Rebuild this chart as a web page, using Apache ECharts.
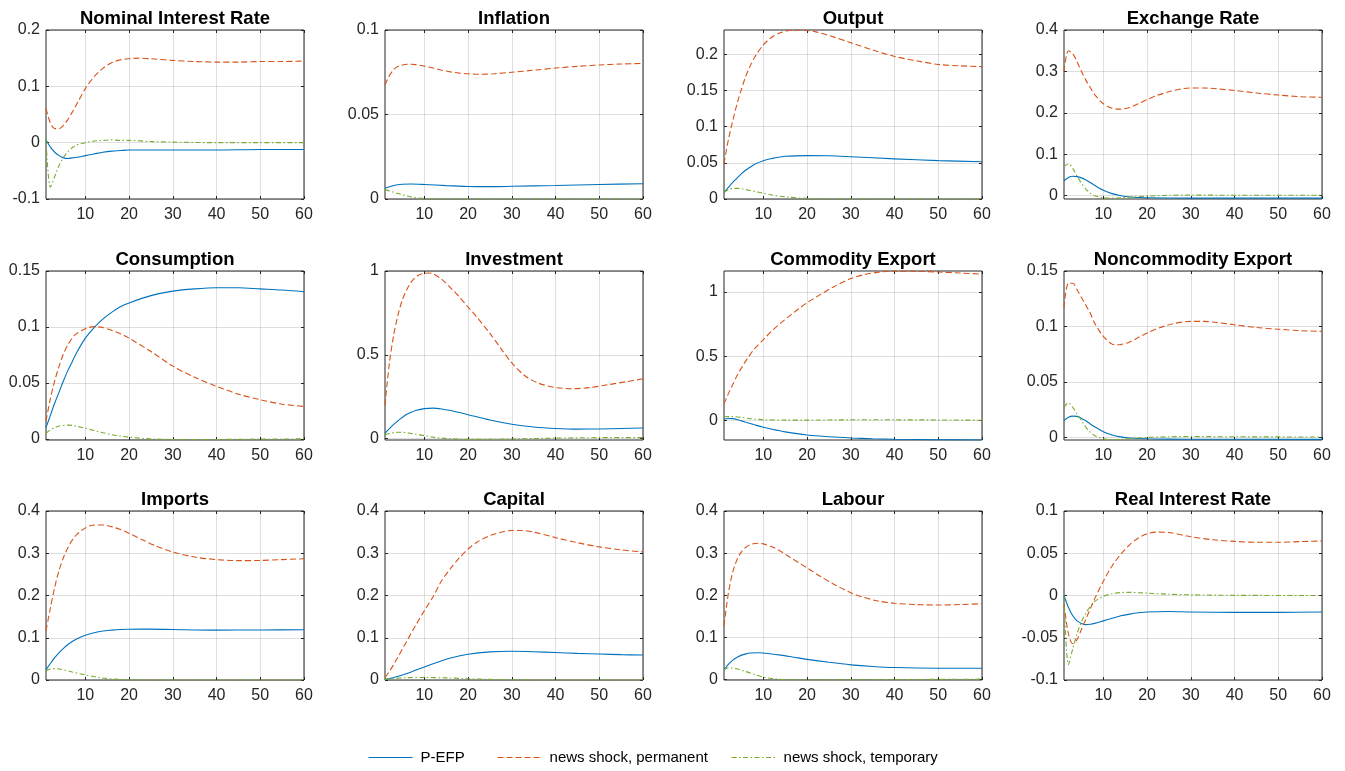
<!DOCTYPE html>
<html>
<head>
<meta charset="utf-8">
<script src="https://cdn.jsdelivr.net/npm/echarts@6/dist/echarts.min.js"></script>
<style>
html,body{margin:0;padding:0;background:#fff;}
#chart{width:1345px;height:771px;}
</style>
</head>
<body>
<div id="chart"></div>
<script>
const titles = ['Nominal Interest Rate','Inflation','Output','Exchange Rate','Consumption','Investment','Commodity Export','Noncommodity Export','Imports','Capital','Labour','Real Interest Rate'];
const seriesNames = ['P-EFP','news shock, permanent','news shock, temporary'];
const xTicks = [10,20,30,40,50,60];
const yTicks = [
  [-0.1,0,0.1,0.2],[0,0.05,0.1],[0,0.05,0.1,0.15,0.2],[0,0.1,0.2,0.3,0.4],
  [0,0.05,0.1,0.15],[0,0.5,1],[0,0.5,1],[0,0.05,0.1,0.15],
  [0,0.1,0.2,0.3,0.4],[0,0.1,0.2,0.3,0.4],[0,0.1,0.2,0.3,0.4],[-0.1,-0.05,0,0.05,0.1]
];
const yLimits = [
  [-0.1,0.2],[0,0.1],[0,0.2336],[-0.008,0.4],
  [-0.001,0.15],[-0.008,1],[-0.151,1.164],[-0.0025,0.15],
  [0,0.4],[0,0.4],[-0.001,0.4],[-0.1,0.1]
];

// Nominal Interest Rate
const nomBlue = [[1,0.005],[2,-0.008],[3,-0.017],[4,-0.023],[5,-0.027],[6,-0.028],[7,-0.027],[8,-0.026],[10,-0.023],[12,-0.020],[14,-0.017],[16,-0.015],[18,-0.014],[20,-0.013],[25,-0.013],[30,-0.013],[40,-0.013],[50,-0.012],[60,-0.012]];
const nomRed = [[1,0.061],[2,0.035],[3,0.025],[4,0.025],[5,0.031],[6,0.041],[7,0.054],[8,0.068],[10,0.096],[12,0.117],[14,0.132],[16,0.142],[18,0.147],[20,0.149],[22,0.150],[25,0.149],[30,0.146],[35,0.144],[40,0.143],[45,0.143],[50,0.144],[55,0.144],[60,0.145]];
const nomGreen = [[1,0.006],[2,-0.079],[3,-0.060],[4,-0.040],[5,-0.026],[6,-0.016],[7,-0.009],[8,-0.004],[10,0.000],[12,0.003],[14,0.004],[16,0.005],[18,0.004],[20,0.004],[25,0.002],[30,0.001],[40,0.000],[50,0.000],[60,0.000]];
// Inflation
const infBlue = [[1,0.0063],[3,0.0080],[5,0.0087],[7,0.0089],[10,0.0086],[15,0.0079],[20,0.0074],[25,0.0073],[30,0.0075],[40,0.0080],[50,0.0086],[60,0.0090]];
const infRed = [[1,0.0675],[2,0.0730],[3,0.0765],[4,0.0785],[5,0.0793],[6,0.0797],[7,0.0797],[8,0.0795],[10,0.0787],[12,0.0775],[14,0.0762],[16,0.0752],[18,0.0745],[20,0.0741],[23,0.0738],[26,0.0741],[30,0.0750],[35,0.0762],[40,0.0775],[45,0.0785],[50,0.0793],[55,0.0799],[60,0.0802]];
const infGreen = [[1,0.0057],[2,0.0048],[3,0.0040],[4,0.0032],[5,0.0025],[6,0.0018],[7,0.0012],[8,0.0008],[10,0.0003],[12,0.0001],[15,0],[20,0],[30,0],[60,0]];
// Output
const outBlue = [[1,0.009],[2,0.016],[3,0.023],[4,0.029],[5,0.035],[6,0.040],[7,0.044],[8,0.048],[10,0.053],[12,0.056],[15,0.059],[20,0.060],[25,0.0598],[30,0.0585],[40,0.0555],[50,0.053],[60,0.0515]];
const outRed = [[1,0.049],[2,0.082],[3,0.108],[4,0.132],[5,0.152],[6,0.170],[7,0.184],[8,0.196],[10,0.213],[12,0.224],[14,0.230],[16,0.233],[18,0.2335],[20,0.233],[22,0.231],[25,0.226],[30,0.216],[35,0.206],[40,0.197],[45,0.191],[50,0.186],[55,0.184],[60,0.183]];
const outGreen = [[1,0.009],[2,0.013],[3,0.0145],[4,0.0147],[5,0.0142],[6,0.013],[8,0.0105],[10,0.008],[12,0.0055],[15,0.003],[20,0.0008],[25,0],[60,0]];
// Exchange Rate
const exrBlue = [[1,0.036],[2,0.044],[3,0.047],[4,0.046],[5,0.043],[6,0.038],[7,0.032],[8,0.025],[10,0.013],[12,0.005],[14,0.0],[16,-0.003],[20,-0.005],[30,-0.006],[40,-0.006],[60,-0.006]];
const exrRed = [[1,0.300],[2,0.350],[3,0.343],[4,0.323],[5,0.300],[6,0.279],[7,0.261],[8,0.244],[10,0.222],[12,0.211],[13,0.209],[14,0.209],[16,0.213],[18,0.222],[20,0.232],[22,0.241],[25,0.251],[28,0.258],[30,0.260],[33,0.260],[36,0.258],[40,0.254],[45,0.248],[50,0.243],[55,0.239],[60,0.2375]];
const exrGreen = [[1,0.070],[2,0.077],[3,0.066],[4,0.047],[5,0.030],[6,0.016],[7,0.006],[8,0.0],[10,-0.005],[12,-0.006],[14,-0.005],[17,-0.003],[20,-0.001],[25,0.001],[30,0.0015],[40,0.001],[50,0.001],[60,0.001]];
// Consumption
const conBlue = [[1,0.010],[2,0.021],[3,0.032],[4,0.042],[5,0.052],[6,0.061],[7,0.069],[8,0.077],[10,0.090],[12,0.0995],[14,0.107],[16,0.113],[18,0.118],[20,0.1215],[25,0.128],[30,0.132],[35,0.134],[40,0.135],[45,0.135],[50,0.134],[55,0.133],[60,0.1315]];
const conRed = [[1,0.016],[2,0.036],[3,0.052],[4,0.065],[5,0.076],[6,0.084],[7,0.090],[8,0.094],[10,0.0985],[12,0.1003],[14,0.0995],[16,0.097],[18,0.094],[20,0.090],[25,0.078],[30,0.065],[35,0.055],[40,0.047],[45,0.040],[50,0.035],[55,0.031],[60,0.029]];
const conGreen = [[1,0.005],[2,0.008],[3,0.010],[4,0.0115],[5,0.012],[6,0.0123],[7,0.012],[8,0.0113],[10,0.0095],[12,0.0075],[14,0.0055],[16,0.0038],[18,0.0025],[20,0.0015],[25,0.0],[30,-0.0005],[40,-0.0005],[50,-0.0002],[60,0.0]];
// Investment
const invBlue = [[1,0.032],[2,0.060],[3,0.085],[4,0.108],[5,0.128],[6,0.145],[7,0.158],[8,0.168],[10,0.179],[12,0.182],[14,0.177],[16,0.168],[18,0.156],[20,0.143],[25,0.111],[30,0.086],[35,0.070],[40,0.061],[45,0.057],[50,0.058],[55,0.061],[60,0.064]];
const invRed = [[1,0.20],[2,0.45],[3,0.62],[4,0.74],[5,0.83],[6,0.89],[7,0.935],[8,0.963],[9,0.979],[10,0.986],[11,0.988],[12,0.984],[14,0.950],[16,0.900],[18,0.845],[20,0.785],[22,0.725],[25,0.628],[28,0.52],[30,0.452],[33,0.375],[36,0.332],[40,0.305],[44,0.298],[48,0.305],[52,0.322],[56,0.339],[60,0.357]];
const invGreen = [[1,0.024],[2,0.031],[3,0.036],[4,0.038],[5,0.038],[6,0.035],[8,0.027],[10,0.018],[12,0.009],[15,0.001],[20,-0.004],[25,-0.004],[30,-0.002],[40,0.003],[50,0.006],[60,0.006]];
// Commodity Export
const comBlue = [[1,0.012],[2,0.016],[3,0.015],[4,0.008],[5,-0.002],[6,-0.013],[8,-0.033],[10,-0.052],[12,-0.068],[15,-0.088],[20,-0.112],[25,-0.126],[30,-0.135],[35,-0.141],[40,-0.145],[50,-0.149],[60,-0.151]];
const comRed = [[1,0.13],[2,0.21],[3,0.28],[4,0.35],[5,0.41],[6,0.465],[7,0.515],[8,0.56],[10,0.63],[12,0.70],[14,0.76],[16,0.815],[18,0.868],[20,0.917],[23,0.98],[26,1.04],[30,1.105],[33,1.135],[36,1.153],[40,1.163],[45,1.162],[50,1.156],[55,1.148],[60,1.14]];
const comGreen = [[1,0.030],[3,0.031],[5,0.025],[7,0.015],[10,0.007],[15,0.004],[20,0.004],[30,0.006],[40,0.006],[50,0.005],[60,0.003]];
// Noncommodity Export
const ncmBlue = [[1,0.015],[2,0.018],[3,0.019],[4,0.0188],[5,0.017],[6,0.0148],[7,0.012],[8,0.0095],[10,0.005],[12,0.002],[14,0.0003],[16,-0.0007],[20,-0.0014],[30,-0.0018],[60,-0.0019]];
const ncmRed = [[1,0.117],[2,0.139],[3,0.139],[4,0.133],[5,0.126],[6,0.119],[7,0.112],[8,0.103],[10,0.091],[12,0.084],[13,0.0834],[14,0.0836],[16,0.086],[18,0.090],[20,0.094],[23,0.099],[26,0.1025],[30,0.1045],[33,0.1045],[36,0.1035],[40,0.1015],[45,0.099],[50,0.0975],[55,0.0962],[60,0.0955]];
const ncmGreen = [[1,0.027],[2,0.031],[3,0.027],[4,0.021],[5,0.015],[6,0.009],[7,0.0045],[8,0.0015],[10,-0.0015],[12,-0.0022],[15,-0.0015],[20,-0.0002],[25,0.0004],[30,0.0006],[40,0.0004],[60,0.0002]];
// Imports
const impBlue = [[1,0.024],[2,0.039],[3,0.053],[4,0.065],[5,0.075],[6,0.084],[7,0.091],[8,0.097],[10,0.106],[12,0.112],[14,0.116],[16,0.118],[18,0.1195],[20,0.120],[25,0.1205],[30,0.1195],[40,0.118],[50,0.1185],[60,0.119]];
const impRed = [[1,0.117],[2,0.17],[3,0.22],[4,0.26],[5,0.29],[6,0.313],[7,0.331],[8,0.344],[10,0.360],[12,0.367],[14,0.367],[16,0.363],[18,0.356],[20,0.347],[23,0.332],[26,0.318],[30,0.303],[35,0.291],[40,0.285],[45,0.2825],[50,0.283],[55,0.285],[60,0.287]];
const impGreen = [[1,0.022],[2,0.026],[3,0.027],[4,0.026],[5,0.024],[7,0.019],[10,0.012],[13,0.006],[16,0.0025],[20,0.0005],[25,0],[30,0],[40,0],[60,0]];
// Capital
const capBlue = [[1,0.001],[3,0.006],[5,0.012],[7,0.019],[10,0.031],[13,0.042],[16,0.052],[20,0.061],[25,0.0665],[30,0.068],[35,0.067],[40,0.065],[45,0.063],[50,0.0615],[55,0.060],[60,0.059]];
const capRed = [[1,0.006],[2,0.020],[3,0.037],[4,0.055],[5,0.074],[6,0.092],[7,0.111],[8,0.129],[10,0.164],[12,0.197],[14,0.236],[16,0.264],[18,0.289],[20,0.310],[22,0.326],[25,0.342],[28,0.351],[30,0.354],[32,0.354],[35,0.350],[40,0.337],[45,0.325],[50,0.315],[55,0.308],[60,0.303]];
const capGreen = [[1,0.002],[3,0.004],[6,0.0055],[10,0.006],[15,0.005],[20,0.003],[25,0.0015],[30,0.0005],[40,0],[60,0]];
// Labour
const labBlue = [[1,0.023],[2,0.036],[3,0.046],[4,0.053],[5,0.058],[6,0.061],[7,0.063],[9,0.0635],[11,0.062],[14,0.058],[17,0.053],[20,0.048],[25,0.041],[30,0.035],[35,0.031],[40,0.0285],[50,0.027],[60,0.027]];
const labRed = [[1,0.128],[2,0.205],[3,0.255],[4,0.285],[5,0.303],[6,0.314],[7,0.320],[8,0.323],[9,0.3235],[10,0.322],[12,0.315],[14,0.304],[16,0.291],[18,0.278],[20,0.265],[23,0.245],[26,0.227],[30,0.206],[33,0.195],[36,0.187],[40,0.181],[45,0.178],[50,0.177],[55,0.178],[60,0.180]];
const labGreen = [[1,0.023],[2,0.028],[3,0.027],[4,0.025],[6,0.019],[8,0.012],[10,0.006],[12,0.0025],[15,0.0],[20,-0.001],[30,-0.0005],[40,0.0],[60,0.001]];
// Real Interest Rate
const rirBlue = [[1,0.0],[2,-0.014],[3,-0.024],[4,-0.030],[5,-0.033],[6,-0.0345],[7,-0.034],[8,-0.033],[10,-0.030],[12,-0.027],[14,-0.024],[16,-0.022],[18,-0.0205],[20,-0.0195],[25,-0.019],[30,-0.0195],[40,-0.020],[50,-0.020],[60,-0.0195]];
const rirRed = [[1,-0.010],[2,-0.045],[3,-0.057],[4,-0.052],[5,-0.040],[6,-0.028],[7,-0.016],[8,-0.004],[10,0.017],[12,0.035],[14,0.049],[16,0.060],[18,0.068],[20,0.073],[22,0.075],[25,0.0745],[30,0.0695],[35,0.066],[40,0.064],[45,0.063],[50,0.063],[55,0.0638],[60,0.0645]];
const rirGreen = [[1,0.0],[2,-0.082],[3,-0.063],[4,-0.045],[5,-0.031],[6,-0.021],[7,-0.013],[8,-0.007],[10,-0.001],[12,0.002],[14,0.0035],[16,0.0037],[18,0.0033],[20,0.0028],[25,0.0015],[30,0.0008],[40,0.0002],[60,0.0]];

const panelData = [
  [nomBlue,nomRed,nomGreen],[infBlue,infRed,infGreen],[outBlue,outRed,outGreen],[exrBlue,exrRed,exrGreen],
  [conBlue,conRed,conGreen],[invBlue,invRed,invGreen],[comBlue,comRed,comGreen],[ncmBlue,ncmRed,ncmGreen],
  [impBlue,impRed,impGreen],[capBlue,capRed,capGreen],[labBlue,labRed,labGreen],[rirBlue,rirRed,rirGreen]
];

// layout
const colLeft = [46, 385, 724, 1064];
const rowTop = [30, 271, 511];
const plotW = 258, plotH = 169;
const colors = ['#0072BD','#D95319','#77AC30'];
const dashes = ['solid',[6,3],[5,2.5,1.5,2.5]];
const FONT = "'Liberation Sans', Arial, Helvetica, sans-serif";
const axisColor = '#262626';
const gridColor = 'rgba(38,38,38,0.15)';
const fmt = v => String(v);

const grids = [], xAxes = [], yAxes = [], seriesList = [], titleList = [];
titles.forEach((t, i) => {
  const r = Math.floor(i / 4), c = i % 4;
  const left = colLeft[c], top = rowTop[r];
  grids.push({left: left, top: top, width: plotW, height: plotH, show: true, borderColor: axisColor, borderWidth: 1, containLabel: false, outerBoundsMode: 'none'});
  titleList.push({text: t, left: left + plotW / 2, top: top - 21, textAlign: 'center', padding: 0,
    textStyle: {fontFamily: FONT, fontSize: 18.5, fontWeight: 'bold', color: '#000'}});
  xAxes.push({type: 'value', gridIndex: i, min: 1, max: 60, position: 'bottom',
    axisLine: {show: false, onZero: false},
    axisTick: {show: true, inside: true, length: 3, customValues: xTicks, lineStyle: {color: axisColor}},
    axisLabel: {show: true, customValues: xTicks, formatter: fmt, margin: 8, color: axisColor, fontFamily: FONT, fontSize: 16},
    splitLine: {show: true, lineStyle: {color: gridColor, width: 1}}});
  xAxes.push({type: 'value', gridIndex: i, min: 1, max: 60, position: 'top',
    axisLine: {show: false, onZero: false},
    axisTick: {show: true, inside: true, length: 3, customValues: xTicks, lineStyle: {color: axisColor}},
    axisLabel: {show: false}, splitLine: {show: false}});
  yAxes.push({type: 'value', gridIndex: i, min: yLimits[i][0], max: yLimits[i][1], position: 'left',
    axisLine: {show: false, onZero: false},
    axisTick: {show: true, inside: true, length: 3, customValues: yTicks[i], lineStyle: {color: axisColor}},
    axisLabel: {show: true, customValues: yTicks[i], formatter: fmt, margin: 6, color: axisColor, fontFamily: FONT, fontSize: 16},
    splitLine: {show: true, lineStyle: {color: gridColor, width: 1}}});
  yAxes.push({type: 'value', gridIndex: i, min: yLimits[i][0], max: yLimits[i][1], position: 'right',
    axisLine: {show: false, onZero: false},
    axisTick: {show: true, inside: true, length: 3, customValues: yTicks[i], lineStyle: {color: axisColor}},
    axisLabel: {show: false}, splitLine: {show: false}});
  panelData[i].forEach((d, k) => {
    seriesList.push({
      name: seriesNames[k], type: 'line', xAxisIndex: 2 * i, yAxisIndex: 2 * i,
      data: d, smooth: 0.3, showSymbol: false, symbol: 'none', silent: true,
      clip: true,
      lineStyle: {color: colors[k], width: 1.1, type: dashes[k]},
      itemStyle: {color: colors[k]},
      z: 3 + k
    });
  });
});

const legendLefts = [368, 497, 731];
const legends = seriesNames.map((n, k) => ({
  data: [n], left: legendLefts[k], top: 750, orient: 'horizontal', padding: 0,
  itemWidth: 44, itemHeight: 14, itemGap: 0,
  itemStyle: {opacity: 0, borderWidth: 0},
  lineStyle: {color: colors[k], width: 1.1, type: dashes[k], opacity: 1},
  textStyle: {fontFamily: FONT, fontSize: 15, color: '#000', padding: [0, 0, 0, 3]},
  selectedMode: false
}));

const chart = echarts.init(document.getElementById('chart'), null, {renderer: 'canvas'});
chart.setOption({
  animation: false,
  backgroundColor: '#fff',
  title: titleList,
  legend: legends,
  grid: grids,
  xAxis: xAxes,
  yAxis: yAxes,
  series: seriesList
});
</script>
</body>
</html>
